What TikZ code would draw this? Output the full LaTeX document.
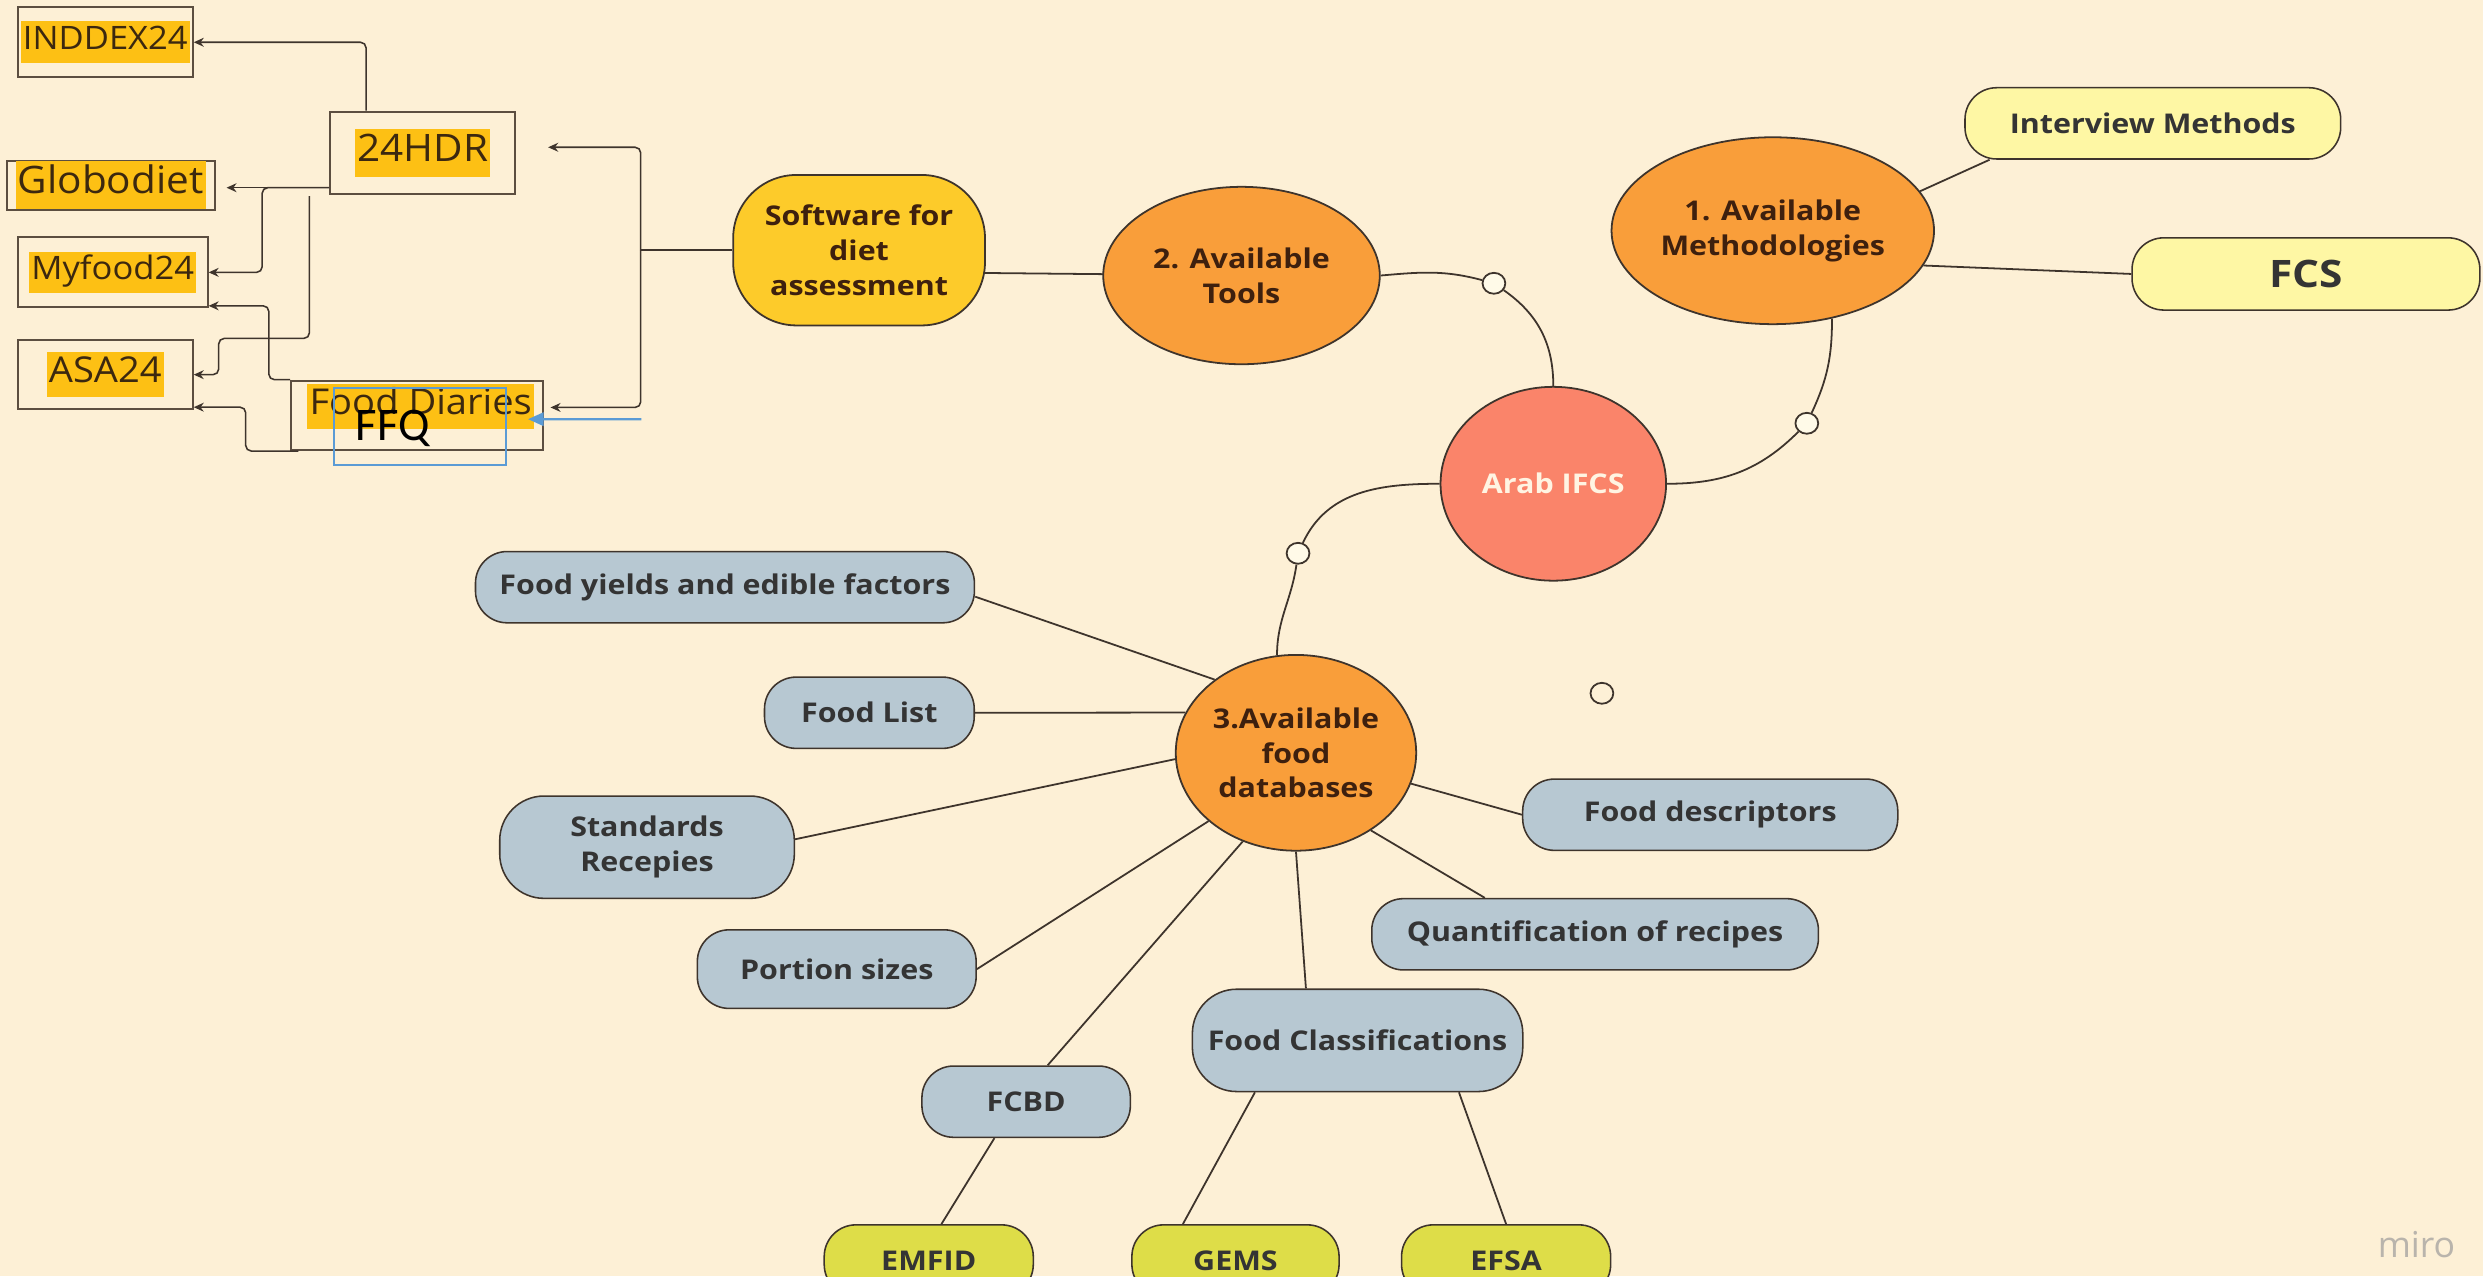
\documentclass[tikz,border=0pt]{standalone}
\usepackage{fontspec}
\setmainfont{Open Sans}
\newfontfamily\mapfont{Open Sans}[FakeStretch=1.12]
\newfontfamily\boxfont{Open Sans}[FakeStretch=1.07]
\newfontfamily\ffqfont{Carlito}
\usepackage{xcolor}
\usetikzlibrary{shapes.geometric, arrows.meta, positioning, backgrounds}

\definecolor{paper}{RGB}{253,240,214}
\definecolor{linebrown}{RGB}{62,52,44}
\definecolor{boxedge}{RGB}{92,78,64}
\definecolor{hlgold}{RGB}{253,192,20}
\definecolor{hltext}{RGB}{60,40,15}
\definecolor{orangefill}{RGB}{249,158,58}
\definecolor{salmon}{RGB}{250,132,106}
\definecolor{softgold}{RGB}{253,203,42}
\definecolor{paleyellow}{RGB}{254,247,164}
\definecolor{pillblue}{RGB}{183,200,210}
\definecolor{limepill}{RGB}{222,221,72}
\definecolor{pilltext}{RGB}{52,52,52}
\definecolor{orangetext}{RGB}{62,32,14}
\definecolor{arabtext}{RGB}{255,244,226}
\definecolor{ffqblue}{RGB}{91,155,213}
\definecolor{knobfill}{RGB}{255,250,232}
\definecolor{mirogray}{RGB}{185,180,172}

\newcommand{\hilite}[1]{{\setlength{\fboxsep}{1pt}\colorbox{hlgold}{\strut #1}}}

\tikzset{
  toolbox/.style={rectangle, draw=boxedge, fill=paper, line width=0.9pt,
                  inner sep=0pt, text=hltext},
  ffqbox/.style={rectangle, draw=ffqblue, line width=0.9pt, inner sep=0pt},
  toolarrow/.style={-{Stealth[length=4.5pt,width=4pt]}, draw=linebrown,
                    line width=0.7pt, rounded corners=2.5pt},
  ffqarrow/.style={-{Triangle[length=7pt,width=6pt]}, draw=ffqblue, line width=1pt},
  mapline/.style={draw=linebrown, line width=0.8pt},
  bubble/.style={ellipse, draw=linebrown, line width=0.8pt, fill=orangefill,
                 text=orangetext, align=center, inner sep=0pt,
                 font=\mapfont\bfseries\fontsize{12.2}{15.6}\selectfont},
  softbox/.style={rectangle, rounded corners=1cm, draw=linebrown, line width=0.8pt,
                  fill=softgold, text=orangetext, align=center, inner sep=0pt,
                  font=\mapfont\bfseries\fontsize{12.2}{15.8}\selectfont},
  pill/.style={rectangle, rounded corners=0.5cm, draw=linebrown, line width=0.7pt,
               fill=pillblue, text=pilltext, align=center, inner sep=0pt,
               minimum height=1.125cm,
               font=\mapfont\bfseries\fontsize{12.2}{15.8}\selectfont},
  tallpill/.style={pill, rounded corners=0.7cm, minimum height=1.615cm},
  methpill/.style={pill, fill=paleyellow},
  leafpill/.style={pill, fill=limepill},
  knob/.style={ellipse, draw=linebrown, fill=knobfill, line width=0.8pt,
               minimum width=0.36cm, minimum height=0.33cm, inner sep=0pt},
}

\begin{document}
\begin{tikzpicture}[x=0.025cm, y=-0.025cm]
  \useasboundingbox (0,0) rectangle (1568,806);
  \begin{scope}[on background layer]
    \fill[paper] (0,0) rectangle (1568,806);
  \end{scope}

  % software boxes
  \node[toolbox, minimum width=2.76cm, minimum height=1.105cm,
        font=\boxfont\fontsize{14.5}{16.7}\selectfont] (inddex) at (66.5,26.7) {\hilite{INDDEX24}};
  \node[toolbox, minimum width=2.925cm, minimum height=1.305cm,
        font=\boxfont\fontsize{17}{19.5}\selectfont] (hdr) at (267,96.6) {\hilite{24HDR}};
  \node[toolbox, minimum width=3.285cm, minimum height=0.78cm,
        font=\boxfont\fontsize{17}{19.5}\selectfont] (globo) at (69.9,117) {\hilite{Globodiet}};
  \node[toolbox, minimum width=2.995cm, minimum height=1.105cm,
        font=\boxfont\fontsize{14.5}{16.7}\selectfont] (myfood) at (71.2,172) {\hilite{Myfood24}};
  \node[toolbox, minimum width=2.76cm, minimum height=1.095cm,
        font=\boxfont\fontsize{16}{18.4}\selectfont] (asa) at (66.5,236.6) {\hilite{ASA24}};
  \node[toolbox, minimum width=3.97cm, minimum height=1.095cm] (diaries) at (263.2,262.3) {};
  \node[font=\boxfont\fontsize{16}{18.4}\selectfont, text=hltext, inner sep=0pt]
    (diariestxt) at (265.7,256.6) {\hilite{Food Diaries}};
  \node[ffqbox, minimum width=2.71cm, minimum height=1.22cm] (ffq) at (265.2,269.3) {};
  \node[font=\ffqfont\fontsize{21}{24}\selectfont, inner sep=0pt] (ffqtxt) at (248,270.5) {FFQ};

  \coordinate (hdrsplit) at ([yshift=0.12cm]hdr.south west);
  \coordinate (hdrdrop) at (195.4,123.8);
  \coordinate (softsplit) at (404.6,158);
  \coordinate (ffqsrc) at (405,264.8);

  \draw[toolarrow] ([xshift=-0.895cm]hdr.north) |- (inddex);
  \draw[toolarrow, shorten >=0.17cm] (hdrsplit) -- (hdrsplit -| globo.east);
  \draw[toolarrow] (hdrsplit) -| ([xshift=0.845cm]myfood.east) -- (myfood.east);
  \draw[toolarrow] (hdrdrop) |- (138.1,213.7) |- (asa);
  \draw[toolarrow] (diaries.north west) -| ([xshift=0.95cm,yshift=0.04cm]myfood.south east)
    -- ([yshift=0.04cm]myfood.south east);
  \draw[toolarrow] ([xshift=0.13cm]diaries.south west) -| ([xshift=0.82cm,yshift=0.05cm]asa.south east)
    -- ([yshift=0.05cm]asa.south east);
  \draw[toolarrow] (softsplit) |- ([xshift=0.5cm,yshift=0.09cm]hdr.east);
  \draw[toolarrow] (softsplit) |- ([xshift=0.11cm,yshift=0.125cm]diaries.east);
  \draw[ffqarrow] (ffqsrc) -- ([xshift=-0.245cm,yshift=-0.06cm]diaries.east);

  % mind map
  \node[softbox, minimum width=3.975cm, minimum height=2.375cm] (soft) at (542.5,158)
    {Software for\\diet\\assessment};
  \node[bubble, minimum width=4.365cm, minimum height=2.8cm] (tools) at (784,174)
    {2. Available\\Tools};
  \node[bubble, fill=salmon, text=arabtext, minimum width=3.56cm, minimum height=3.06cm]
    (arab) at (980.9,305.5) {Arab IFCS};
  \node[bubble, minimum width=5.09cm, minimum height=2.95cm] (meth) at (1119.5,145.7)
    {1. Available\\Methodologies};
  \node[bubble, minimum width=3.795cm, minimum height=3.09cm] (dbs) at (818.4,475.4)
    {3.Available\\food\\databases};

  \node[methpill, minimum width=5.93cm] (interview) at (1359.5,77.9) {Interview Methods};
  \node[methpill, minimum width=5.49cm, minimum height=1.14cm,
        font=\mapfont\bfseries\fontsize{17}{20}\selectfont] (fcs) at (1456.2,173) {FCS};

  \node[pill, minimum width=7.875cm] (yields) at (457.8,370.8) {Food yields and edible factors};
  \node[pill, minimum width=3.31cm] (list) at (549,450.1) {Food List};
  \node[tallpill, minimum width=4.65cm] (recipes) at (408.6,535) {Standards\\Recepies};
  \node[pill, minimum width=4.4cm, minimum height=1.24cm] (portion) at (528.4,612) {Portion sizes};
  \node[pill, minimum width=3.29cm] (fcbd) at (648,695.7) {FCBD};
  \node[tallpill, minimum width=5.215cm] (classif) at (857.3,657) {Food Classifications};
  \node[pill, minimum width=5.92cm] (descr) at (1080,514.5) {Food descriptors};
  \node[pill, minimum width=7.05cm] (quant) at (1007.3,590) {Quantification of recipes};
  \node[leafpill, minimum width=3.3cm] (emfid) at (586.5,796) {EMFID};
  \node[leafpill, minimum width=3.27cm] (gems) at (780.2,796) {GEMS};
  \node[leafpill, minimum width=3.3cm] (efsa) at (951.1,796) {EFSA};

  \node[knob] (j1) at (943.4,178.9) {};
  \node[knob] (j2) at (1141,267.3) {};
  \node[knob] (j3) at (819.7,349.4) {};
  \node[knob, fill=paper] (lone) at (1011.6,437.8) {};

  \node[font=\fontsize{16}{19}\selectfont, text=mirogray, inner sep=0pt] (miro) at (1526,785.7) {miro};

  \coordinate (yieldsend) at ([yshift=-0.15cm]yields.east);
  \coordinate (recipesend) at ([yshift=0.125cm]recipes.east);
  \coordinate (fcbdtop) at ([xshift=0.34cm]fcbd.north);
  \coordinate (fcbdfoot) at ([xshift=-0.5cm]fcbd.south);
  \coordinate (classiftop) at ([xshift=-0.815cm]classif.north);
  \coordinate (classifleft) at ([xshift=-1.62cm]classif.south);
  \coordinate (classifright) at ([xshift=1.6cm]classif.south);
  \coordinate (quanttop) at ([xshift=-1.74cm]quant.north);
  \coordinate (emfidtop) at ([xshift=0.2cm]emfid.north);
  \coordinate (gemstop) at ([xshift=-0.83cm]gems.north);

  \begin{scope}[on background layer]
    \draw[mapline] (soft) -- (softsplit);
    \draw[mapline] ([yshift=-0.34cm]soft.center) -- (tools.center);
    \draw[mapline] (tools.east) to[out=5,in=165] (j1) to[out=-35,in=90] (arab.north);
    \draw[mapline] (arab.east) to[out=0,in=-135] (j2) to[out=65,in=-90] (meth.-56);
    \draw[mapline] (arab.west) to[out=180,in=65] (j3) to[out=-98,in=90] (dbs.101.5);
    \draw[mapline] (meth.15) -- ([xshift=0.4cm]interview.south west);
    \draw[mapline] (meth.-13) -- (fcs.west);
    \foreach \a/\b in {yieldsend/dbs.138, list.east/dbs.160, recipesend/dbs.183,
                       portion.east/dbs.-142, fcbdtop/dbs.-121, classiftop/dbs.south,
                       descr.west/dbs.-15, quanttop/dbs.-46, fcbdfoot/emfidtop,
                       classifleft/gemstop, classifright/efsa.north}
      \draw[mapline] (\a) -- (\b);
  \end{scope}
\end{tikzpicture}
\end{document}
